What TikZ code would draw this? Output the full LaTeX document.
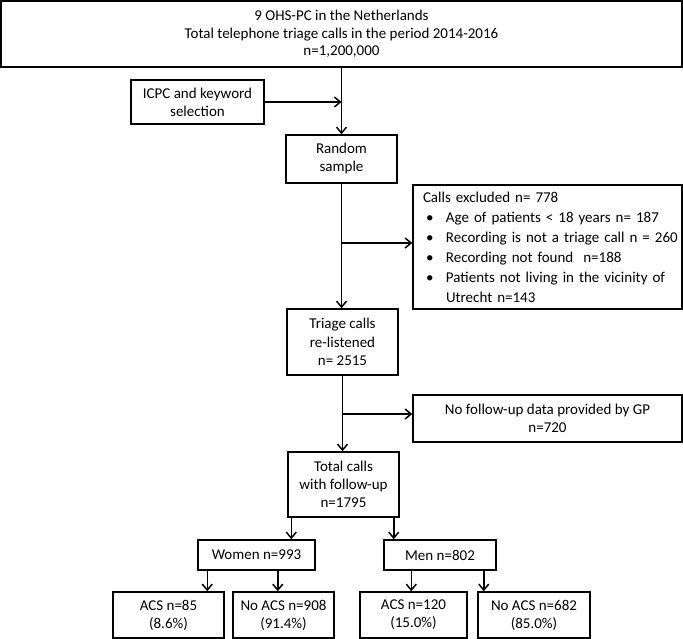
\documentclass[tikz,border=0pt]{standalone}
\usepackage{fontspec}
\setmainfont{Carlito}
\usetikzlibrary{arrows.meta,calc}
\begin{document}
\begin{tikzpicture}[x=1pt,y=-1pt,
  box/.style={draw, line width=1.5pt, inner sep=0pt, align=center, font=\fontsize{15}{18}\selectfont},
  arr/.style={line width=1.5pt, -{Straight Barb[length=6pt,width=10pt,line width=1.5pt]}}]
\useasboundingbox (0,0) rectangle (683,639);
\node[box, minimum width=681, minimum height=66, font=\fontsize{15}{17.5}\selectfont] (top) at (341.5,34)
  {9 OHS-PC in the Netherlands\\Total telephone triage calls in the period 2014-2016\\n=1,200,000};
\node[box, minimum width=133, minimum height=44] (icpc) at (197.5,102) {ICPC and keyword\\selection};
\node[box, minimum width=111, minimum height=48] (random) at (341.5,159) {Random\\sample};
\node[box, minimum width=269, minimum height=124, text width=249, inner xsep=10pt, align=left,
  font=\fontsize{15}{20}\selectfont] (excl) at (547.5,247)
  {\mbox{Calls excluded n= 778}\\
   \mbox{\hspace*{3pt}\makebox[20pt][l]{•}Age of patients < 18 years n= 187}\\
   \mbox{\hspace*{3pt}\makebox[20pt][l]{•}Recording is not a triage call n = 260}\\
   \mbox{\hspace*{3pt}\makebox[20pt][l]{•}Recording not found\ \ n=188}\\
   \mbox{\hspace*{3pt}\makebox[20pt][l]{•}Patients not living in the vicinity of}\\
   \mbox{\hspace*{23pt}Utrecht n=143}};
\node[box, minimum width=111, minimum height=66, font=\fontsize{15}{18.5}\selectfont] (triage) at (342.5,342) {Triage calls\\re-listened\\n= 2515};
\node[box, minimum width=269, minimum height=47] (nofu) at (547.5,418.5) {No follow-up data provided by GP\\n=720};
\node[box, minimum width=111, minimum height=65] (total) at (343.5,484.5) {Total calls\\with follow-up\\n=1795};
\node[box, minimum width=117, minimum height=30] (women) at (256.5,555) {Women n=993};
\node[box, minimum width=112, minimum height=30] (men) at (440,555) {Men n=802};
\node[box, minimum width=111, minimum height=46] (acs85) at (168.5,615) {ACS n=85\\(8.6\%)};
\node[box, minimum width=101, minimum height=46] (noacs908) at (283.5,615) {No ACS n=908\\(91.4\%)};
\node[box, minimum width=107, minimum height=46] (acs120) at (413.5,615) {ACS n=120\\(15.0\%)};
\node[box, minimum width=112, minimum height=46] (noacs682) at (534,615) {No ACS n=682\\(85.0\%)};
% connectors
\draw[arr] (top.south -| random.north) -- (random.north);
\draw[arr] (icpc.east) -- (icpc.east -| random.north);
\draw[arr] (random.south) -- (random.south |- triage.north);
\draw[arr] ([yshift=4pt]excl.west -| random.south) -- ([yshift=4pt]excl.west);
\draw[arr] (triage.south) -- (triage.south |- total.north);
\draw[arr] ([yshift=4.5pt]nofu.west -| triage.south) -- ([yshift=4.5pt]nofu.west);
\draw[arr] ([xshift=4pt]total.south west) -- ([xshift=4pt]total.south west |- women.north);
\draw[arr] ([xshift=-6pt]total.south east) -- ([xshift=-6pt]total.south east |- men.north);
\draw[arr] ([xshift=10pt]women.south west) -- ([xshift=10pt]women.south west |- acs85.north);
\draw[arr] ([xshift=-38pt]women.south east) -- ([xshift=-38pt]women.south east |- noacs908.north);
\draw[arr] ([xshift=28pt]men.south west) -- ([xshift=28pt]men.south west |- acs120.north);
\draw[arr] ([xshift=-13pt]men.south east) -- ([xshift=-13pt]men.south east |- noacs682.north);
\end{tikzpicture}
\end{document}
